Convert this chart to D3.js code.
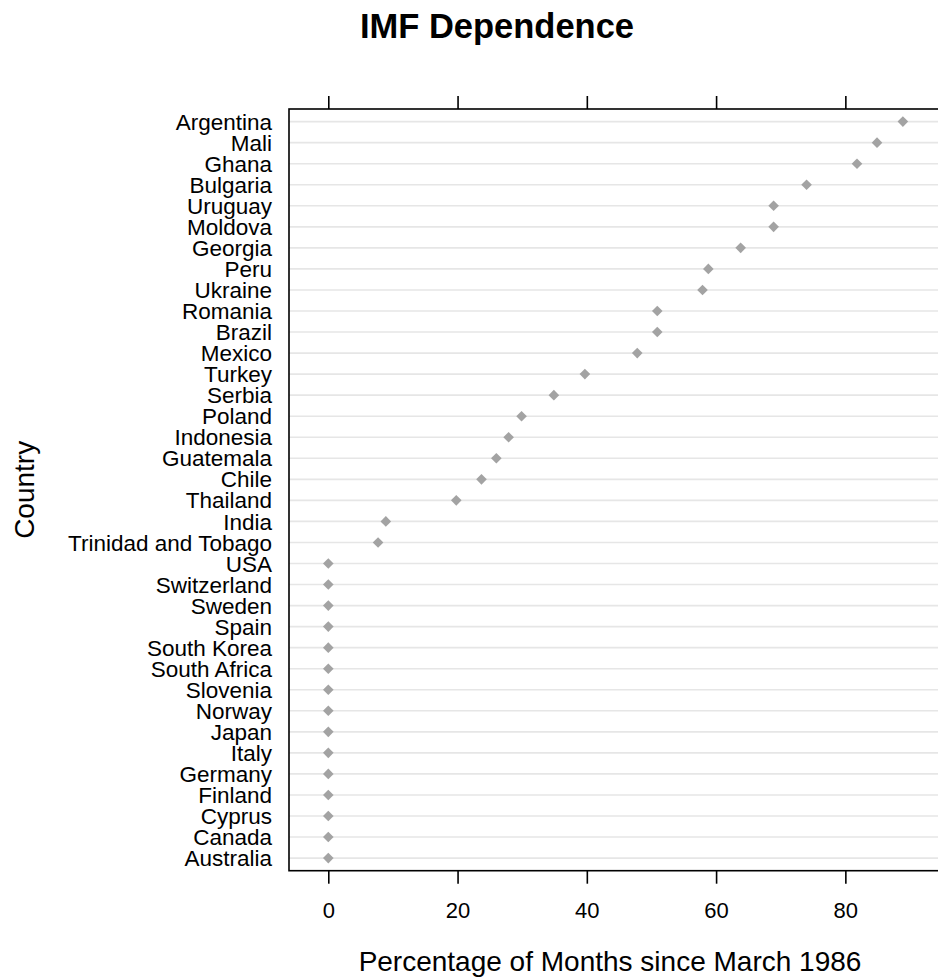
<!DOCTYPE html>
<html>
<head>
<meta charset="utf-8">
<script src="https://cdn.jsdelivr.net/npm/d3@7"></script>
<style>
  body { margin: 0; background: #fff; }
  text { font-family: "Liberation Sans", Arial, sans-serif; fill: #000; }
</style>
</head>
<body>
<div id="chart"></div>
<script>
// countries, top to bottom as in the plot
const countries = ["Argentina", "Mali", "Ghana", "Bulgaria", "Uruguay", "Moldova", "Georgia", "Peru",
  "Ukraine", "Romania", "Brazil", "Mexico", "Turkey", "Serbia", "Poland", "Indonesia", "Guatemala",
  "Chile", "Thailand", "India", "Trinidad and Tobago", "USA", "Switzerland", "Sweden", "Spain",
  "South Korea", "South Africa", "Slovenia", "Norway", "Japan", "Italy", "Germany", "Finland",
  "Cyprus", "Canada", "Australia"];

// percentage of months since March 1986 under an IMF programme
const pctMonths = [88.9, 84.9, 81.8, 74.0, 68.9, 68.9, 63.8, 58.8,
  57.9, 50.9, 50.9, 47.8, 39.7, 34.9, 29.9, 27.9, 26.0,
  23.7, 19.8, 8.9, 7.7, 0, 0, 0, 0,
  0, 0, 0, 0, 0, 0, 0, 0,
  0, 0, 0];

const xTicks = [0, 20, 40, 60, 80];

const titleText = "IMF Dependence";
const xLabel = "Percentage of Months since March 1986";
const yLabel = "Country";

const data = countries.map((c, i) => ({ country: c, value: pctMonths[i] }));

const dimensions = { width: 938, height: 979 };
// panel runs off the right edge of the picture, like the original
const panel = { left: 289, top: 109, bottom: 870.7, right: 1312 };

let svg = d3.select("#chart")
            .append("svg")
            .attr("width", dimensions.width)
            .attr("height", dimensions.height);

let xScale = d3.scaleLinear()
               .domain([-6.08, 152.2])
               .range([panel.left, panel.right]);

let yScale = d3.scalePoint()
               .domain(countries)
               .range([panel.top, panel.bottom])
               .padding(0.6);

// grid lines for every country
svg.append("g")
   .attr("class", "grid")
   .selectAll("line")
   .data(data)
   .enter()
   .append("line")
   .attr("x1", panel.left)
   .attr("x2", panel.right)
   .attr("y1", d => yScale(d.country))
   .attr("y2", d => yScale(d.country))
   .attr("stroke", "#e6e6e6")
   .attr("stroke-width", 1.6);

// panel border
svg.append("rect")
   .attr("x", panel.left)
   .attr("y", panel.top)
   .attr("width", panel.right - panel.left)
   .attr("height", panel.bottom - panel.top)
   .attr("fill", "none")
   .attr("stroke", "#000")
   .attr("stroke-width", 1.6);

// bottom axis with labels
let xAxisBottom = svg.append("g")
   .attr("transform", `translate(0, ${panel.bottom})`)
   .call(d3.axisBottom(xScale).tickValues(xTicks).tickSize(13).tickPadding(19).tickFormat(d3.format("d")));

xAxisBottom.select(".domain").remove();
xAxisBottom.selectAll(".tick line").attr("stroke", "#000").attr("stroke-width", 1.6);
xAxisBottom.selectAll(".tick text")
   .style("font-size", "22px")
   .style("font-family", "'Liberation Sans', Arial, sans-serif")
   .attr("fill", "#000");

// top axis, ticks only
let xAxisTop = svg.append("g")
   .attr("transform", `translate(0, ${panel.top})`)
   .call(d3.axisTop(xScale).tickValues(xTicks).tickSize(13).tickFormat(""));

xAxisTop.select(".domain").remove();
xAxisTop.selectAll(".tick line").attr("stroke", "#000").attr("stroke-width", 1.6);

// country labels
svg.append("g")
   .selectAll("text")
   .data(data)
   .enter()
   .append("text")
   .attr("x", panel.left - 17)
   .attr("y", d => yScale(d.country))
   .attr("dy", "0.36em")
   .attr("text-anchor", "end")
   .style("font-size", "22.5px")
   .text(d => d.country);

// diamonds
svg.append("g")
   .attr("class", "dots")
   .selectAll("path")
   .data(data)
   .enter()
   .append("path")
   .attr("d", d3.symbol().type(d3.symbolDiamond2).size(72))
   .attr("transform", d => `translate(${xScale(d.value)}, ${yScale(d.country)})`)
   .attr("fill", "#a3a3a3");

// title and axis labels
svg.append("text")
   .attr("x", 497)
   .attr("y", 38)
   .attr("text-anchor", "middle")
   .style("font-size", "34.5px")
   .style("font-weight", "bold")
   .text(titleText);

svg.append("text")
   .attr("x", 610)
   .attr("y", 971)
   .attr("text-anchor", "middle")
   .style("font-size", "28px")
   .text(xLabel);

svg.append("text")
   .attr("transform", `translate(34, ${(panel.top + panel.bottom) / 2}) rotate(-90)`)
   .attr("text-anchor", "middle")
   .style("font-size", "28px")
   .text(yLabel);
</script>
</body>
</html>
